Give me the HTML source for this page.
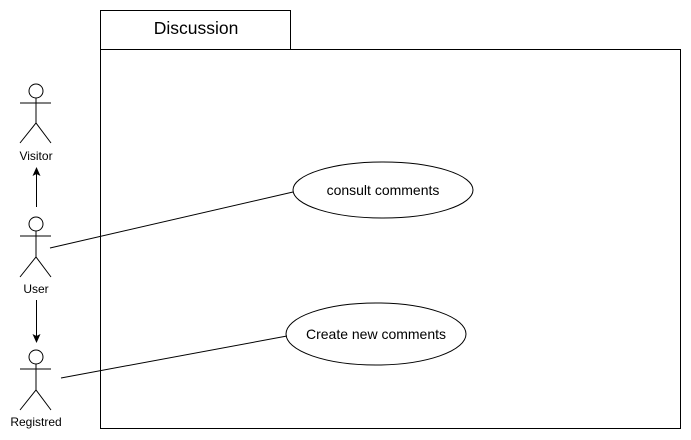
<!DOCTYPE html>
<html><head><style>body{margin:0;background:#fff}svg{display:block}</style></head><body>
<svg width="691" height="440" xmlns="http://www.w3.org/2000/svg" font-family="Liberation Sans, Arial, sans-serif">
<rect x="100.5" y="49.5" width="580" height="379" fill="#fff" stroke="#000"/>
<rect x="100.5" y="10.5" width="190" height="39" fill="#fff" stroke="#000"/>
<text x="196" y="34" font-size="17.5" text-anchor="middle">Discussion</text>
<g fill="#fff" stroke="#000" stroke-width="1">
<ellipse cx="383" cy="190" rx="90" ry="28"/>
<ellipse cx="376" cy="334" rx="90" ry="31"/>
</g>
<text x="383" y="195" font-size="14" text-anchor="middle">consult comments</text>
<text x="376" y="339" font-size="14" text-anchor="middle">Create new comments</text>
<g stroke="#000" fill="none">
<line x1="50" y1="248" x2="293" y2="192"/>
<line x1="61" y1="378" x2="287" y2="336"/>
<line x1="36.5" y1="207" x2="36.5" y2="174"/>
<line x1="36.5" y1="300" x2="36.5" y2="336"/>
</g>
<polygon points="36.5,167 32.5,176 36.5,174 40.5,176" fill="#000"/>
<polygon points="36.5,343 32.5,334 36.5,336 40.5,334" fill="#000"/>
<g stroke="#000" fill="#fff">
<circle cx="36" cy="91" r="7"/><line x1="36" y1="98" x2="36" y2="123"/><line x1="20" y1="103" x2="51" y2="103"/><polyline points="20,143 36,123 51,143" fill="none"/>
<circle cx="36" cy="224" r="7"/><line x1="36" y1="231" x2="36" y2="257"/><line x1="20" y1="236" x2="51" y2="236"/><polyline points="20,277 36,257 51,277" fill="none"/>
<circle cx="36" cy="357" r="7"/><line x1="36" y1="364" x2="36" y2="390"/><line x1="20" y1="369" x2="51" y2="369"/><polyline points="20,410 36,390 51,410" fill="none"/>
</g>
<g font-size="12" text-anchor="middle">
<text x="36" y="160">Visitor</text>
<text x="36" y="293">User</text>
<text x="36" y="426">Registred</text>
</g>
</svg>
</body></html>
